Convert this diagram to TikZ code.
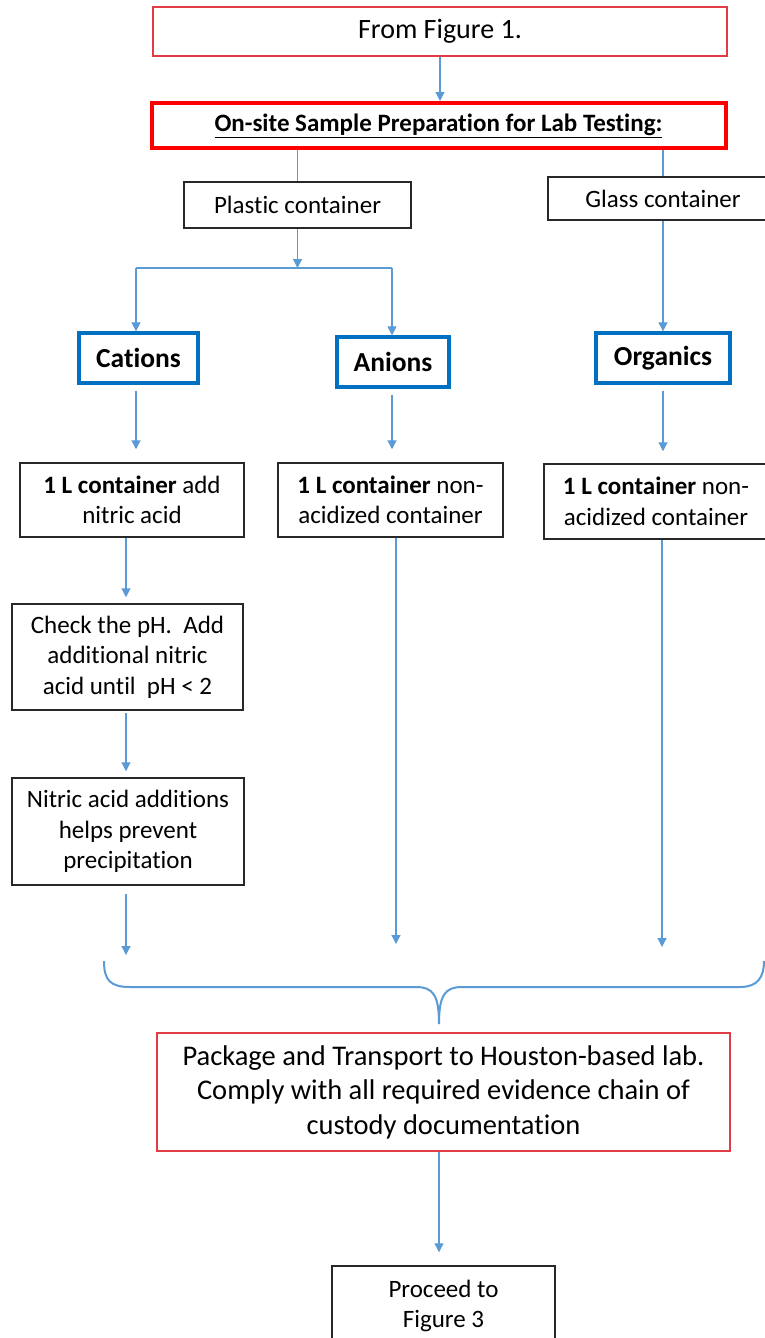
\documentclass[tikz,border=0pt]{standalone}
\usepackage{fontspec}
\setmainfont{Carlito}[Ligatures={NoCommon}]
\usetikzlibrary{arrows.meta}
\definecolor{lnblue}{RGB}{91,155,213}
\definecolor{bxblue}{RGB}{0,112,192}
\definecolor{thinred}{RGB}{225,60,70}
\definecolor{bxblack}{RGB}{40,40,40}
\newcommand{\fsz}[2]{\fontsize{#1}{#2}\selectfont}
\begin{document}
\begin{tikzpicture}[x=1pt,y=-1pt,
  ln/.style={draw=lnblue, line width=1.2pt},
  arr/.style={draw=lnblue, line width=1.2pt, -{Triangle[length=9pt,width=9pt]}},
  bx/.style={rectangle, inner sep=0pt, align=center, text=black},
  blk/.style={bx, draw=bxblack, line width=1.5pt, font=\fsz{25}{30.5}},
  hdr/.style={bx, draw=bxblue, line width=3.3pt, font=\fsz{27.5}{33}\bfseries},
  redthin/.style={bx, draw=thinred, line width=1.5pt},
  redthick/.style={bx, draw=red, line width=4pt, font=\fsz{25}{30}\bfseries}
]
\useasboundingbox (0,0) rectangle (764,1338);
\fill[white] (0,0) rectangle (764,1338);

% boxes
\node[redthin, font=\fsz{28}{34}, minimum width=574pt, minimum height=49pt] (fig1) at (440,31.5) {From Figure 1.};
\node[redthick, minimum width=574pt, minimum height=45pt] (onsite) at (438.5,125.5) {\underline{On-site Sample Preparation for Lab Testing:}};
\node[blk, minimum width=227pt, minimum height=46pt] (plastic) at (297.5,205) {Plastic container};
\node[blk, minimum width=230pt, minimum height=43pt] (glass) at (663,198.5) {Glass container};
\node[hdr, minimum width=119pt, minimum height=50pt] (cations) at (138.5,358) {Cations};
\node[hdr, minimum width=112pt, minimum height=50pt] (anions) at (393,362) {Anions};
\node[hdr, minimum width=134pt, minimum height=50pt] (organics) at (663,358) {Organics};
\node[blk, minimum width=224pt, minimum height=74pt] (L1) at (132,500) {\textbf{1 L container} add\\nitric acid};
\node[blk, minimum width=225pt, minimum height=74pt] (L2) at (390.5,500) {\textbf{1 L container} non-\\acidized container};
\node[blk, minimum width=224pt, minimum height=75pt] (L3) at (656,501.5) {\textbf{1 L container} non-\\acidized container};
\node[blk, minimum width=231pt, minimum height=106pt] (check) at (127.5,657) {Check the pH.\ \ Add\\additional nitric\\acid until\ \ pH {<} 2};
\node[blk, minimum width=232pt, minimum height=107pt] (nitric) at (128,831.5) {Nitric acid additions\\helps prevent\\precipitation};
\node[redthin, font=\fsz{28.5}{34.5}, minimum width=573pt, minimum height=118pt] (pkg) at (443.5,1092) {Package and Transport to Houston-based lab.\\Comply with all required evidence chain of\\custody documentation};
\node[blk, minimum width=223pt, minimum height=80pt] (proceed) at (443.5,1306) {Proceed to\\Figure 3};

% helper coordinates
\coordinate (sl) at (136,268);
\coordinate (sm) at (297.5,268);
\coordinate (sr) at (392,268);
\coordinate (cc) at (126,0);
\coordinate (ac) at (396,0);
\coordinate (oc) at (662,0);
\coordinate (e1) at (126,955);
\coordinate (e2) at (396,944);
\coordinate (e3) at (662,947);
\coordinate (bl) at (104,961);
\coordinate (bc) at (439,1024);
\coordinate (br) at (764,961);

% connectors
\draw[arr] (fig1.south) -- (fig1.south |- onsite.north);
\draw[ln] (onsite.south -| plastic.north) -- (plastic.north);
\draw[ln] (onsite.south -| glass.north) -- (glass.north);
\draw[arr] (plastic.south) -- (sm);
\draw[ln] (sl) -- (sr);
\draw[arr] (sl) -- (sl |- cations.north);
\draw[arr] (sr) -- (sr |- anions.north);
\draw[arr] (glass.south) -- (organics.north);

\draw[arr, shorten <=6pt, shorten >=13pt] (cations.south -| sl) -- (L1.north -| sl);
\draw[arr, shorten <=6pt, shorten >=13pt] (anions.south -| sr) -- (L2.north -| sr);
\draw[arr, shorten <=6pt, shorten >=12pt] (organics.south) -- (L3.north -| organics.south);

\draw[arr, shorten >=6pt] (L1.south -| cc) -- (check.north -| cc);
\draw[arr, shorten <=2pt, shorten >=6pt] (check.south -| cc) -- (nitric.north -| cc);
\draw[arr, shorten <=8pt] (nitric.south -| cc) -- (e1);
\draw[arr] (L2.south -| ac) -- (e2);
\draw[arr] (L3.south -| oc) -- (e3);

% brace
\draw[draw=lnblue, line width=2pt] (bl) .. controls (104,980) and (110,987) .. (130,987)
  -- (416,987) .. controls (433,987) and (439,995) .. (bc)
  .. controls (439,995) and (445,987) .. (462,987)
  -- (740,987) .. controls (757,987) and (764,978) .. (br);

\draw[arr, shorten >=13pt] (pkg.south -| bc) -- (proceed.north -| bc);
\end{tikzpicture}
\end{document}
